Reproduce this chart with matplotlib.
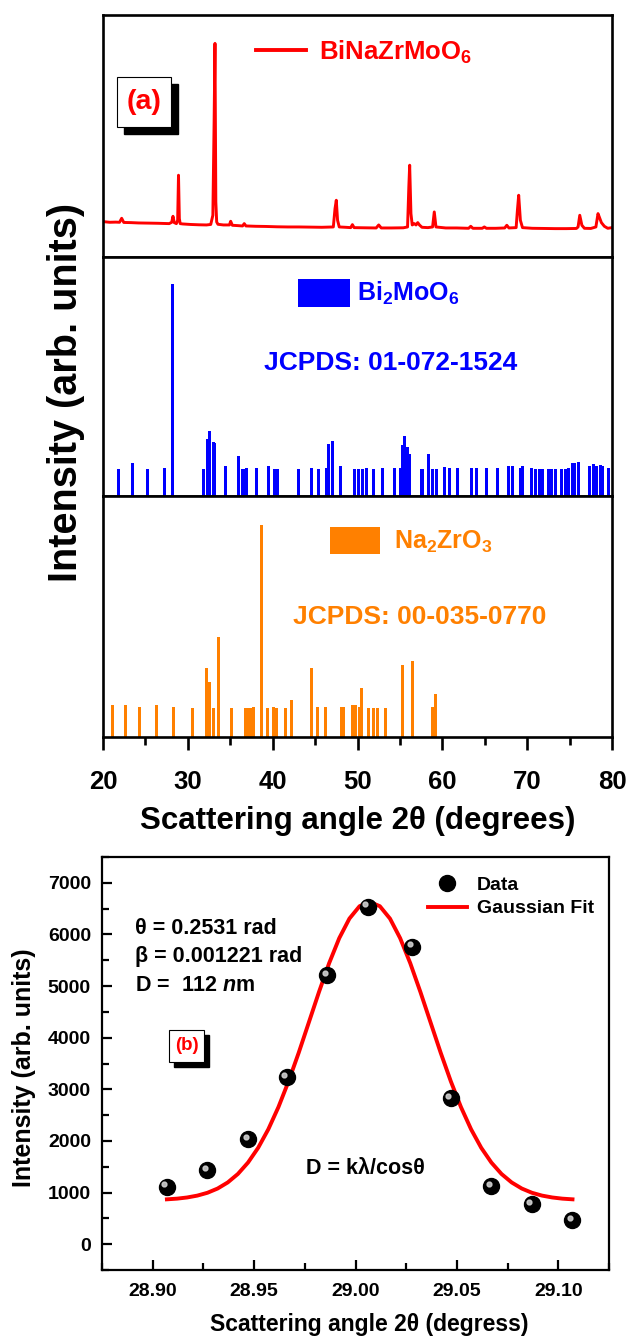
import matplotlib
matplotlib.use('Agg')
import matplotlib.pyplot as plt
from matplotlib.patches import Rectangle
from matplotlib.ticker import MultipleLocator, FormatStrFormatter
from matplotlib import transforms

plt.rcParams['font.family'] = ['Liberation Sans', 'DejaVu Sans']
plt.rcParams['font.weight'] = 'bold'
plt.rcParams['mathtext.fontset'] = 'custom'
plt.rcParams['mathtext.rm'] = 'Liberation Sans:bold'
plt.rcParams['mathtext.bf'] = 'Liberation Sans:bold'
plt.rcParams['mathtext.it'] = 'Liberation Sans:bold:italic'

# ---------------- data: panel (a) measured pattern ----------------
xrd_angle = [20.0, 20.8, 21.5, 21.95, 22.2, 22.45, 23.3, 24.2, 25.4, 26.5, 27.8, 28.1, 28.25, 28.4,
             28.65, 28.8, 28.9, 29.0, 29.1, 29.4, 30.3, 31.3, 32.2, 32.7, 32.95, 33.1, 33.2, 33.3,
             33.4, 33.55, 34.2, 34.9, 35.05, 35.25, 35.9, 36.45, 36.65, 36.85, 38.0, 39.2, 40.5,
             41.8, 43.1, 44.5, 45.8, 47.15, 47.35, 47.5, 47.65, 47.85, 48.6, 49.2, 49.4, 49.6,
             50.8, 52.2, 52.5, 52.8, 54.0, 55.4, 55.9, 56.05, 56.15, 56.3, 56.45, 56.7, 56.9,
             57.1, 57.3, 57.6, 58.3, 58.85, 59.05, 59.25, 60.4, 61.7, 63.1, 63.35, 63.6, 64.7,
             64.95, 65.2, 66.3, 67.35, 67.6, 67.85, 68.7, 68.85, 69.0, 69.2, 69.45, 70.6, 72.0,
             73.3, 74.6, 75.8, 76.0, 76.2, 76.45, 76.75, 77.5, 78.1, 78.35, 78.5, 78.75, 79.1,
             79.5, 80.0]
xrd_intensity = [1060, 1040, 1045, 1040, 1160, 1035, 1030, 1020, 1015, 1010, 1000, 1040, 1220, 1030,
                 1000, 1100, 2450, 1150, 1000, 990, 975, 965, 960, 975, 1250, 4100, 6400, 1650,
                 1050, 980, 960, 960, 1070, 950, 940, 930, 1000, 930, 920, 915, 905,
                 900, 900, 895, 890, 900, 1450, 1700, 1100, 900, 890, 880, 970, 880,
                 875, 870, 960, 870, 870, 875, 900, 2100, 2750, 1300, 960, 1000, 960,
                 1030, 960, 890, 880, 900, 1350, 900, 870, 870, 860, 920, 860, 860,
                 900, 860, 860, 870, 950, 870, 880, 1400, 1850, 1100, 880, 860, 855,
                 850, 850, 855, 900, 1250, 950, 860, 855, 900, 1300, 1200, 1030, 920,
                 860, 880]

# Bi2MoO6 reference lines (JCPDS 01-072-1524)
bmo_angle = [21.8, 23.5, 25.3, 27.2, 28.2, 31.8, 32.3, 32.55, 33.0, 33.15, 34.4, 36.0, 36.5, 36.9,
             38.1, 39.5, 40.2, 40.6, 43.0, 44.6, 45.4, 46.3, 46.6, 47.1, 48.0, 49.7, 50.1, 50.6,
             51.1, 51.9, 52.9, 54.4, 55.1, 55.3, 55.5, 55.9, 56.1, 57.6, 58.4, 58.8, 59.3, 60.3,
             60.8, 61.8, 63.4, 64.0, 65.2, 66.5, 67.8, 68.3, 69.2, 69.5, 70.5, 71.0, 71.4, 71.8,
             72.5, 72.9, 73.3, 74.1, 74.5, 74.9, 75.3, 75.6, 76.0, 77.4, 77.8, 78.2, 78.6, 78.9,
             79.6]
bmo_intensity = [12.7, 15.3, 12.7, 13.4, 100, 12.7, 26.9, 30.5, 25.6, 25.0, 14.2, 18.8, 12.7, 13.4,
                 13.0, 14.2, 12.7, 12.7, 12.7, 13.0, 12.7, 13.4, 24.7, 25.8, 14.1, 12.7, 12.7, 12.7,
                 13.4, 12.7, 13.0, 13.4, 13.4, 23.9, 28.3, 23.3, 19.8, 12.7, 20.0, 12.7, 12.7, 13.8,
                 13.4, 13.0, 13.0, 13.0, 13.0, 13.0, 14.2, 13.9, 13.4, 13.9, 13.0, 12.7, 12.7, 12.7,
                 12.7, 12.7, 12.7, 12.7, 12.7, 13.0, 15.3, 15.3, 15.8, 14.2, 15.0, 13.9, 14.6, 14.2,
                 13.0]

# Na2ZrO3 reference lines (JCPDS 00-035-0770)
nzo_angle = [21.1, 22.6, 24.3, 26.3, 28.3, 30.5, 32.2, 32.6, 33.0, 33.6, 35.1, 36.8, 37.2, 37.4,
             37.7, 38.65, 39.4, 40.1, 40.45, 41.5, 42.2, 44.6, 45.3, 46.2, 48.1, 48.3, 49.4, 49.8,
             50.2, 50.5, 51.3, 51.9, 52.4, 53.3, 55.3, 56.5, 58.8, 59.2]
nzo_intensity = [15.1, 15.1, 14.0, 15.1, 14.0, 13.5, 32.5, 26.2, 13.5, 47.3, 13.5, 13.5, 13.5, 13.5,
                 14.0, 100, 13.5, 14.0, 13.5, 13.5, 17.5, 32.5, 14.0, 14.0, 14.0, 14.0, 15.1, 15.1,
                 14.0, 23.0, 13.5, 13.5, 13.5, 13.5, 34.1, 36.0, 14.0, 20.3]

# ---------------- data: panel (b) ----------------
peak_angle = [28.907, 28.927, 28.947, 28.966, 28.986, 29.006, 29.028, 29.047, 29.067, 29.087, 29.107]
peak_intensity = [1110, 1434, 2029, 3230, 5213, 6537, 5762, 2823, 1124, 775, 465]

fit_angle = [28.907, 28.912, 28.917, 28.922, 28.927, 28.932, 28.937, 28.942, 28.947, 28.952,
             28.957, 28.962, 28.967, 28.972, 28.977, 28.982, 28.987, 28.992, 28.997, 29.002,
             29.007, 29.012, 29.017, 29.022, 29.027, 29.032, 29.037, 29.042, 29.047, 29.052,
             29.057, 29.062, 29.067, 29.072, 29.077, 29.082, 29.087, 29.092, 29.097, 29.102,
             29.107]
fit_intensity = [869, 882, 905, 941, 996, 1078, 1196, 1360, 1581, 1867,
                 2225, 2656, 3155, 3709, 4297, 4886, 5443, 5929, 6307, 6547,
                 6630, 6547, 6307, 5929, 5443, 4886, 4297, 3709, 3155, 2656,
                 2225, 1867, 1581, 1360, 1196, 1078, 996, 941, 905, 882,
                 869]

RED = '#FF0000'
BLUE = '#0000FF'
ORANGE = '#FF8000'

W, H = 626, 1340
fig = plt.figure(figsize=(W / 100, H / 100), dpi=100)


def fax(l, t, r, b):
    return fig.add_axes([l / W, 1 - b / H, (r - l) / W, (b - t) / H])


def shadow_box(x0, y0, x1, y1, off, text, size):
    sh = Rectangle((x0 + off, H - y1 - off), x1 - x0, y1 - y0, transform=None,
                   facecolor='black', edgecolor='black', zorder=5)
    bx = Rectangle((x0, H - y1), x1 - x0, y1 - y0, transform=None,
                   facecolor='white', edgecolor='black', lw=0.8, zorder=6)
    fig.add_artist(sh)
    fig.add_artist(bx)
    fig.text((x0 + x1) / 2 / W, 1 - (y0 + y1) / 2 / H, text, color=RED, fontsize=size,
             fontweight='bold', ha='center', va='center', zorder=7)


ax1 = fax(103, 15, 612, 257)
ax2 = fax(103, 257, 612, 496)
ax3 = fax(103, 496, 612, 737)
axb = fax(102, 857, 609, 1270)

for ax in (ax1, ax2, ax3):
    ax.set_xlim(20, 80)
    for s in ax.spines.values():
        s.set_linewidth(1.9)
    ax.set_yticks([])

# top: measured pattern
ax1.plot(xrd_angle, xrd_intensity, color=RED, lw=2.1, label=r'$\mathbf{BiNaZrMoO_6}$')
ax1.set_ylim(0, 7250)
ax1.set_xticks([])
leg1 = ax1.legend(loc='center left', bbox_to_anchor=(0.300, 0.847), frameon=False,
                  fontsize=18.5, handlelength=1.95, handletextpad=0.5, borderpad=0,
                  borderaxespad=0)
for t in leg1.get_texts():
    t.set_color(RED)
for l in leg1.get_lines():
    l.set_linewidth(2.8)

# middle: Bi2MoO6 lines
ax2.bar(bmo_angle, bmo_intensity, width=0.36, color=BLUE, label=r'$\mathbf{Bi_2MoO_6}$')
ax2.set_ylim(0, 112.5)
ax2.set_xticks([])
leg2 = ax2.legend(loc='center left', bbox_to_anchor=(0.383, 0.849), frameon=False,
                  fontsize=18, handlelength=2.1, handleheight=1.35, handletextpad=0.25,
                  borderpad=0, borderaxespad=0)
for t in leg2.get_texts():
    t.set_color(BLUE)
ax2.text(0.566, 0.556, 'JCPDS: 01-072-1524', transform=ax2.transAxes, color=BLUE,
         fontsize=19, fontweight='bold', ha='center', va='center')

# bottom: Na2ZrO3 lines
ax3.bar(nzo_angle, nzo_intensity, width=0.36, color=ORANGE, label=r'$\mathbf{Na_2ZrO_3}$')
ax3.set_ylim(0, 113.8)
leg3 = ax3.legend(loc='center left', bbox_to_anchor=(0.446, 0.813), frameon=False,
                  fontsize=18, handlelength=2.0, handleheight=1.3, handletextpad=0.55,
                  borderpad=0, borderaxespad=0)
for t in leg3.get_texts():
    t.set_color(ORANGE)
ax3.text(0.622, 0.498, 'JCPDS: 00-035-0770', transform=ax3.transAxes, color=ORANGE,
         fontsize=19, fontweight='bold', ha='center', va='center')
ax3.xaxis.set_major_locator(MultipleLocator(10))
ax3.xaxis.set_minor_locator(MultipleLocator(5))
ax3.tick_params(axis='x', which='major', direction='out', length=9.5, width=1.9,
                labelsize=18.5, pad=14)
ax3.tick_params(axis='x', which='minor', direction='out', length=5.5, width=1.9)
for lab in ax3.get_xticklabels():
    lab.set_fontweight('bold')
ax3.set_xlabel('Scattering angle 2θ (degrees)', fontsize=22.5, fontweight='bold', labelpad=9)

fig.text(66 / W, 1 - 392 / H, 'Intensity (arb. units)', rotation=90, fontsize=28.5,
         fontweight='bold', ha='center', va='center')

shadow_box(117, 77, 171, 127, 6.5, '(a)', 20.5)

# ---------------- panel (b) ----------------
for s in axb.spines.values():
    s.set_linewidth(1.6)
axb.plot(fit_angle, fit_intensity, color=RED, lw=2.8, label='Gaussian Fit', zorder=2)
axb.plot(peak_angle, peak_intensity, 'o', color='black', ms=11.5, label='Data', zorder=3)
hl = transforms.offset_copy(axb.transData, fig=fig, x=-2.5, y=2.5, units='dots')
axb.plot(peak_angle, peak_intensity, 'o', color='#d8d8d8', ms=3.5, alpha=0.85,
         transform=hl, zorder=4)
axb.set_xlim(28.875, 29.125)
axb.set_ylim(-500, 7500)
axb.xaxis.set_major_locator(MultipleLocator(0.05))
axb.xaxis.set_minor_locator(MultipleLocator(0.025))
axb.xaxis.set_major_formatter(FormatStrFormatter('%.2f'))
axb.yaxis.set_major_locator(MultipleLocator(1000))
axb.yaxis.set_minor_locator(MultipleLocator(500))
axb.tick_params(which='major', direction='in', length=7.5, width=1.6, labelsize=14)
axb.tick_params(which='minor', direction='in', length=5, width=1.6)
axb.tick_params(axis='y', pad=8)
axb.tick_params(axis='x', pad=9)
for lab in axb.get_xticklabels() + axb.get_yticklabels():
    lab.set_fontweight('bold')
axb.set_xlabel('Scattering angle 2θ (degress)', fontsize=16.5, fontweight='bold')
axb.xaxis.set_label_coords(0.527, -0.104)
fig.text(24 / W, 1 - 1068 / H, 'Intensity (arb. units)', rotation=90, fontsize=18,
         fontweight='bold', ha='center', va='center')

hs, ls = axb.get_legend_handles_labels()
legb = axb.legend([hs[1], hs[0]], [ls[1], ls[0]], loc='center left',
                  bbox_to_anchor=(0.643, 0.904), frameon=False, fontsize=14,
                  handlelength=2.0, handletextpad=0.5, labelspacing=0.32,
                  borderpad=0, borderaxespad=0)

axb.text(0.065, 0.828, 'θ = 0.2531 rad', transform=axb.transAxes, fontsize=15.5,
         fontweight='bold', ha='left', va='center')
axb.text(0.065, 0.760, 'β = 0.001221 rad', transform=axb.transAxes, fontsize=15.5,
         fontweight='bold', ha='left', va='center')
axb.text(0.065, 0.690, r'D =  112 $\mathit{n}$m', transform=axb.transAxes, fontsize=15.5,
         fontweight='bold', ha='left', va='center')
axb.text(0.402, 0.245, 'D = kλ/cosθ', transform=axb.transAxes, fontsize=15.5,
         fontweight='bold', ha='left', va='center')

shadow_box(169, 1030, 204, 1062, 4.5, '(b)', 13.5)

fig.savefig('out.png', dpi=100, facecolor='white')
